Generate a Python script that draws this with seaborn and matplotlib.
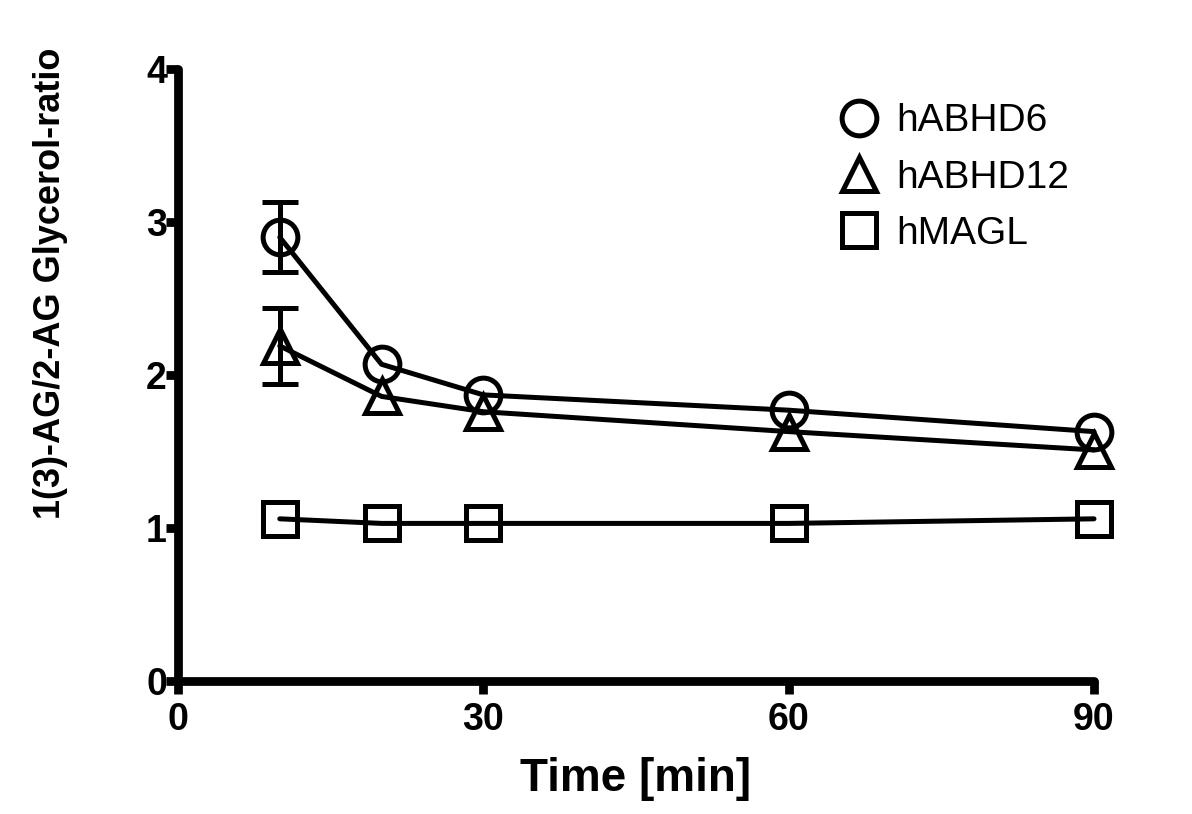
# Monoacylglycerol isomerisation ratio over time - Prism style line chart
import numpy as np
import pandas as pd
import matplotlib
matplotlib.use("Agg")
import matplotlib.pyplot as plt
from matplotlib import font_manager
from matplotlib.lines import Line2D
import seaborn as sns

# values
time_min = [10, 20, 30, 60, 90]
abhd6 = [2.90, 2.07, 1.87, 1.77, 1.63]
abhd12 = [2.19, 1.86, 1.76, 1.63, 1.51]
magl = [1.06, 1.03, 1.03, 1.03, 1.06]
abhd6_err = [0.23, 0, 0, 0, 0]
abhd12_err = [0.25, 0, 0, 0, 0]
enzymes = ["hABHD6", "hABHD12", "hMAGL"]
x_ticks = [0, 30, 60, 90]
y_ticks = [0, 1, 2, 3, 4]

df = pd.DataFrame({
    "time": time_min * 3,
    "ratio": abhd6 + abhd12 + magl,
    "enzyme": np.repeat(enzymes, len(time_min)),
})

sns.set_theme(style="ticks", rc={"text.color": "black", "axes.labelcolor": "black",
                                 "xtick.color": "black", "ytick.color": "black",
                                 "axes.edgecolor": "black"})
plt.rcParams["font.family"] = ["Liberation Sans", "DejaVu Sans"]

fig = plt.figure(figsize=(11.92, 8.14), dpi=100)
ax = fig.add_axes([178 / 1192, 1 - 681 / 814, (1094 - 178) / 1192, (681 - 69) / 814])

markers = {"hABHD6": "o", "hABHD12": "^", "hMAGL": "s"}
lw = 3.6

sns.lineplot(data=df, x="time", y="ratio", style="enzyme", markers=markers,
             dashes=False, color="black", linewidth=lw, markersize=25,
             markerfacecolor="none", markeredgecolor="black", markeredgewidth=3.6,
             legend=False, ax=ax, clip_on=False, zorder=3)

# error bars (only the first time point has visible SEM)
for vals, errs in [(abhd6, abhd6_err), (abhd12, abhd12_err)]:
    ax.errorbar(time_min[:1], vals[:1], yerr=errs[:1], fmt="none", ecolor="black",
                elinewidth=lw, capsize=13, capthick=lw, zorder=2)

ax.set_xlim(0, 90)
ax.set_ylim(0, 4)
ax.set_xticks(x_ticks)
ax.set_yticks(y_ticks)
ax.tick_params(axis="both", direction="out", length=9, width=6.3, labelsize=27)
ax.tick_params(axis="x", pad=6)
ax.tick_params(axis="y", pad=-1)
for lab in ax.get_xticklabels() + ax.get_yticklabels():
    lab.set_fontweight("bold")
sns.despine(ax=ax)
for side in ["left", "bottom"]:
    ax.spines[side].set_linewidth(6.3)
    ax.spines[side].set_capstyle("round")

ax.set_xlabel("Time [min]", fontsize=33, fontweight="bold", labelpad=14)

# the y title in the reference is a condensed bold face
installed = {f.name for f in font_manager.fontManager.ttflist}
if "Liberation Sans Narrow" in installed:
    ax.set_ylabel("1(3)-AG/2-AG Glycerol-ratio", fontsize=30, fontweight="bold",
                  family="Liberation Sans Narrow")
else:
    ax.set_ylabel("1(3)-AG/2-AG Glycerol-ratio", fontsize=26, fontweight="bold")
ax.yaxis.set_label_coords(-0.12, 0.65)

handles = [Line2D([], [], linestyle="none", marker=markers[e], markersize=25,
                  markerfacecolor="none", markeredgecolor="black",
                  markeredgewidth=3.6) for e in enzymes]
ax.legend(handles, enzymes, loc="upper left", bbox_to_anchor=(820 / 1192, 1 - 84 / 814),
          bbox_transform=fig.transFigure, frameon=False, fontsize=28,
          handlelength=1.0, handletextpad=0.45, labelspacing=0.52, borderpad=0)

fig.savefig("out.png", dpi=100)
